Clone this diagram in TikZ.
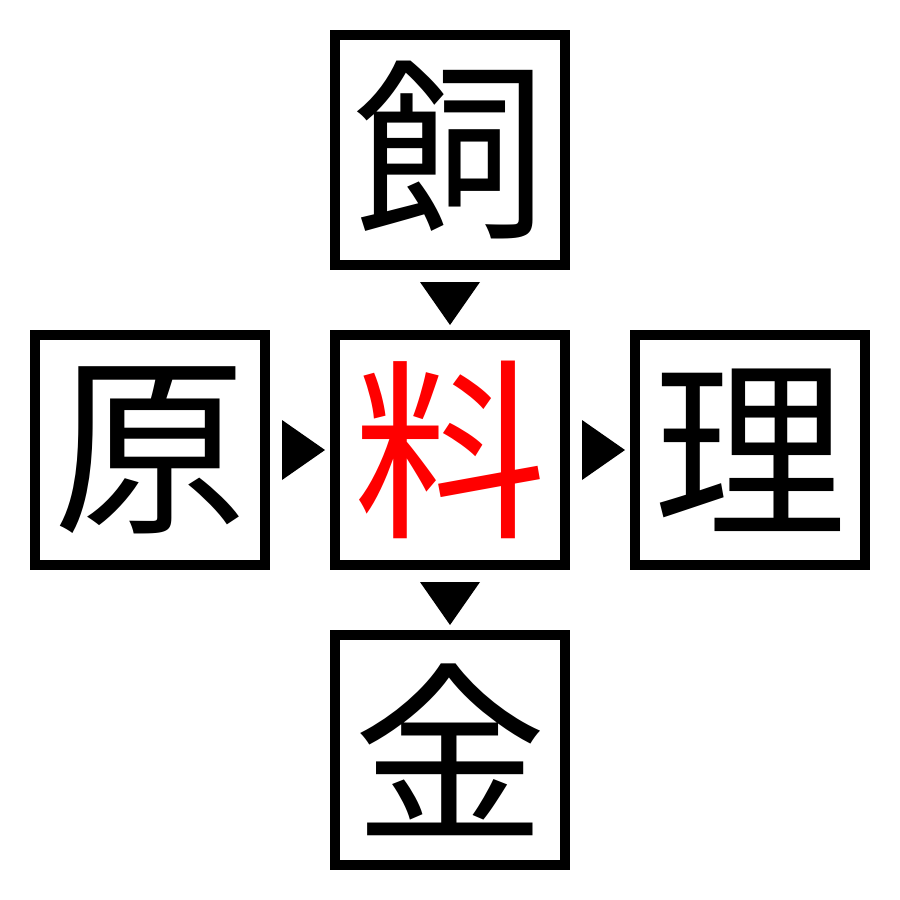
\documentclass[tikz,border=0pt]{standalone}
\usepackage{fontspec}
\newfontfamily\cjk{Noto Sans CJK JP}
\usetikzlibrary{calc}
\begin{document}
\begin{tikzpicture}[x=0.01cm,y=-0.01cm,
  charbox/.style={draw=black,line width=0.1cm,minimum size=2.3cm,inner sep=0pt,fill=white,font=\cjk\fontsize{55}{55}\selectfont},
  tri/.style={fill=black}]
\useasboundingbox (0,0) rectangle (900,900);
\node[charbox] (top) at (450,150) {飼};
\node[charbox] (left) at (150,450) {原};
\node[charbox,text=red] (mid) at (450,450) {料};
\node[charbox] (right) at (750,450) {理};
\node[charbox] (bot) at (450,750) {金};
\coordinate (a1) at ($(top.south)!0.5!(mid.north)$);
\coordinate (a2) at ($(mid.south)!0.5!(bot.north)$);
\coordinate (a3) at ($(left.east)!0.5!(mid.west)$);
\coordinate (a4) at ($(mid.east)!0.5!(right.west)$);
\fill[tri] ($(a1)+(-30,-18)$) -- ($(a1)+(30,-18)$) -- ($(a1)+(0,25)$) -- cycle;
\fill[tri] ($(a2)+(-30,-18)$) -- ($(a2)+(30,-18)$) -- ($(a2)+(0,25)$) -- cycle;
\fill[tri] ($(a3)+(-18,-30)$) -- ($(a3)+(-18,30)$) -- ($(a3)+(25,0)$) -- cycle;
\fill[tri] ($(a4)+(-18,-30)$) -- ($(a4)+(-18,30)$) -- ($(a4)+(25,0)$) -- cycle;
\end{tikzpicture}
\end{document}
